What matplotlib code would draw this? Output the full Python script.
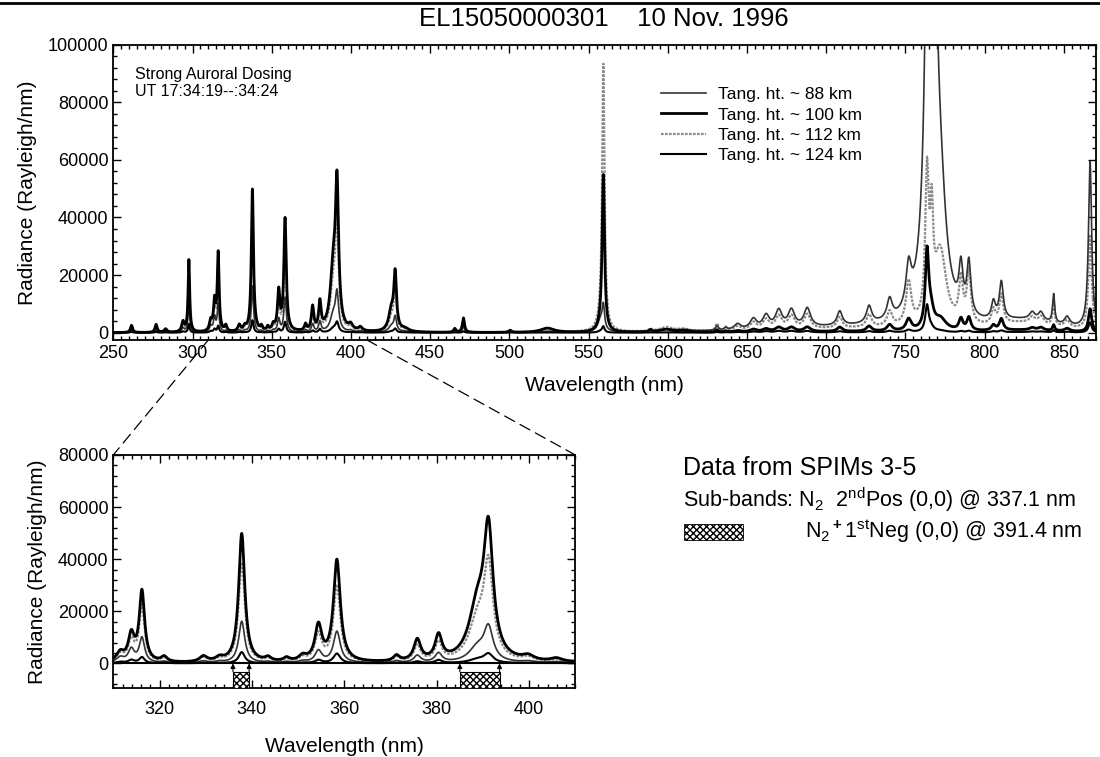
import numpy as np
import matplotlib.pyplot as plt
from matplotlib.lines import Line2D
from matplotlib.patches import Rectangle, ConnectionPatch
from matplotlib.ticker import MultipleLocator

plt.rcParams['font.family'] = ['Liberation Sans', 'DejaVu Sans']
plt.rcParams['mathtext.fontset'] = 'custom'
plt.rcParams['mathtext.rm'] = 'Liberation Sans'
plt.rcParams['mathtext.it'] = 'Liberation Sans:italic'
plt.rcParams['mathtext.bf'] = 'Liberation Sans:bold'

# emission features: centre (nm), half width (nm) and peak radiance
# (Rayleigh/nm) at each tangent height
line_nm = [261.5, 277.0, 283.0, 294.0, 297.7, 311.5, 313.9, 316.2, 321.0, 329.5,
           333.0, 337.8, 343.5, 347.5, 351.0, 354.4, 358.4, 371.3, 375.8, 380.4,
           388.8, 391.2, 399.8, 405.9, 425.5, 427.9, 434.0, 465.5, 471.0, 500.5,
           524.0, 557.5, 559.3, 589.0, 599.0, 610.0, 631.0, 636.5, 644.0, 654.0,
           662.0, 670.0, 678.0, 688.0, 708.5, 727.0, 740.0, 752.0, 763.6, 766.6,
           766.0, 772.0, 785.0, 790.0, 805.5, 810.5, 830.0, 835.5, 843.5, 852.0,
           866.5, 720.0, 825.0]
line_hw = [0.8, 0.8, 1.0, 1.0, 0.6, 1.0, 0.8, 0.7, 0.8, 1.0,
           1.0, 0.8, 0.8, 0.8, 1.0, 0.9, 0.9, 0.8, 0.9, 0.9,
           2.2, 1.2, 1.5, 1.5, 2.0, 1.0, 3.0, 0.8, 0.8, 1.0,
           5.0, 2.0, 0.9, 1.0, 5.0, 4.0, 1.0, 1.0, 2.5, 2.5,
           2.5, 2.5, 2.5, 2.5, 2.0, 2.0, 2.0, 2.0, 1.3, 1.0,
           2.2, 4.5, 1.5, 1.5, 1.5, 1.5, 2.0, 2.0, 0.8, 2.0,
           1.2, 60.0, 25.0]
peak_88 = [800, 800, 300, 1500, 11000, 2000, 5000, 9500, 500, 700,
           500, 16000, 400, 400, 600, 4500, 12000, 700, 2700, 3500,
           5500, 12500, 500, 400, 2000, 5000, 300, 400, 2000, 200,
           300, 4000, 8000, 500, 800, 500, 1500, 800, 2000, 3500,
           4500, 6000, 6000, 6500, 5000, 6000, 7000, 14000, 0, 0,
           380000, 30000, 15000, 18000, 6000, 13000, 2500, 3000, 10000, 3000,
           58000, 1500, 3500]
peak_100 = [2500, 2800, 1200, 3500, 25000, 3500, 10000, 27000, 2000, 2200,
            1500, 49500, 1500, 1400, 2000, 13500, 39000, 2200, 8200, 9500,
            20000, 47000, 1800, 1300, 7000, 19000, 1000, 1300, 5000, 700,
            1500, 1500, 54000, 800, 1000, 500, 800, 400, 500, 900,
            1000, 1500, 1500, 1600, 1500, 1800, 2200, 4000, 26000, 0,
            6000, 4000, 4000, 4500, 1800, 4000, 800, 1000, 2000, 1000,
            8000, 300, 800]
peak_112 = [2000, 2200, 1000, 3000, 19000, 3000, 8000, 21500, 1600, 1800,
            1200, 38500, 1200, 1100, 1600, 10500, 29500, 1800, 6300, 7200,
            15000, 34500, 1500, 1000, 5000, 13500, 800, 1100, 4000, 600,
            1300, 2000, 92000, 800, 1500, 800, 2500, 1200, 1500, 2600,
            3400, 4500, 4500, 5000, 3800, 4500, 5200, 15000, 48000, 26000,
            6000, 26000, 15000, 18000, 5000, 10000, 2000, 2500, 8000, 2500,
            33000, 1200, 3000]
peak_124 = [300, 300, 100, 400, 3000, 500, 1200, 2300, 200, 200,
            100, 4300, 100, 100, 200, 1200, 3700, 200, 700, 1200,
            1400, 3300, 150, 100, 400, 1300, 100, 100, 500, 100,
            100, 500, 2000, 100, 100, 0, 200, 100, 200, 300,
            400, 500, 500, 500, 400, 400, 500, 800, 9000, 0,
            1500, 500, 400, 500, 300, 600, 200, 200, 700, 200,
            3500, 100, 200]

legend_labels = ["Tang. ht. ~ 88 km", "Tang. ht. ~ 100 km",
                 "Tang. ht. ~ 112 km", "Tang. ht. ~ 124 km"]

# N2 2P (0,0) and N2+ 1N (0,0) sub-band limits (nm)
band_337 = (335.9, 339.4)
band_391 = (385.0, 393.6)

wl = np.arange(250.0, 870.05, 0.1)


def spectrum(peaks):
    out = np.zeros_like(wl)
    for c, w, h in zip(line_nm, line_hw, peaks):
        out += h / (1.0 + ((wl - c) / w) ** 2)
    return out


spectra = [spectrum(p) for p in (peak_88, peak_100, peak_112, peak_124)]
styles = [dict(color="#333333", lw=1.2, ls="-"),
          dict(color="black", lw=2.0, ls="-"),
          dict(color="#8a8a8a", lw=1.6, ls=(0, (1.2, 0.6))),
          dict(color="black", lw=1.5, ls="-")]
draw_order = [2, 0, 1, 3]

fig = plt.figure(figsize=(11, 7.57), dpi=100)
ax = fig.add_axes([0.103, 0.551, 0.893, 0.390])
ax2 = fig.add_axes([0.103, 0.091, 0.420, 0.308])

for i in draw_order:
    ax.plot(wl, spectra[i], label=legend_labels[i], **styles[i])
    sel = (wl >= 310) & (wl <= 410)
    ax2.plot(wl[sel], spectra[i][sel], **styles[i])

ax.set_xlim(250, 870)
ax.set_ylim(-2500, 100000)
ax.xaxis.set_major_locator(MultipleLocator(50))
ax.xaxis.set_minor_locator(MultipleLocator(5))
ax.yaxis.set_major_locator(MultipleLocator(20000))
ax.yaxis.set_minor_locator(MultipleLocator(4000))
ax.set_xlabel("Wavelength (nm)", fontsize=15, labelpad=10)
ax.set_ylabel("Radiance (Rayleigh/nm)", fontsize=15, labelpad=8)
fig.text(0.549, 0.975, "EL15050000301    10 Nov. 1996", fontsize=18.5,
         ha="center", va="center")

handles, labels = ax.get_legend_handles_labels()
order = [labels.index(l) for l in legend_labels]
ax.legend([handles[k] for k in order], [labels[k] for k in order],
          loc="upper left", bbox_to_anchor=(0.55, 0.88), frameon=False,
          fontsize=12.5, handlelength=2.6, labelspacing=0.3,
          borderaxespad=0, handletextpad=0.7)

ax.text(0.022, 0.925, "Strong Auroral Dosing\nUT 17:34:19--:34:24",
        transform=ax.transAxes, fontsize=11.5, va="top", linespacing=1.2)

ax2.set_xlim(310, 410)
ax2.set_ylim(-9500, 80000)
ax2.xaxis.set_major_locator(MultipleLocator(20))
ax2.xaxis.set_minor_locator(MultipleLocator(2))
ax2.yaxis.set_major_locator(MultipleLocator(20000))
ax2.yaxis.set_minor_locator(MultipleLocator(4000))
ax2.set_yticks([0, 20000, 40000, 60000, 80000])
ax2.set_xlabel("Wavelength (nm)", fontsize=15, labelpad=14)
ax2.set_ylabel("Radiance (Rayleigh/nm)", fontsize=15, labelpad=8)
ax2.axhline(0, color="black", lw=1.5, zorder=3)

# hatched sub-band markers with arrows up to the zero line
for lo, hi in (band_337, band_391):
    ax2.add_patch(Rectangle((lo, -9500), hi - lo, 6300, facecolor="white",
                            edgecolor="black", hatch="xxxxx", lw=0.8, zorder=4))
    for x in (lo, hi):
        ax2.annotate("", xy=(x, 0), xytext=(x, -3200),
                     arrowprops=dict(arrowstyle="-|>", lw=0.8, color="black",
                                     mutation_scale=7, shrinkA=0, shrinkB=0))

for a in (ax, ax2):
    a.tick_params(which="both", direction="in", top=True, right=True,
                  labelsize=13, width=1.0)
    a.tick_params(which="major", length=6)
    a.tick_params(which="minor", length=3)
    for s in a.spines.values():
        s.set_linewidth(1.3)
ax2.tick_params(axis="x", which="major", pad=9)

# dashed lines tying the inset range to the upper panel
for xa, xb in ((310, 0), (410, 1)):
    con = ConnectionPatch(xyA=(xa, -2500), coordsA=ax.transData,
                          xyB=(xb, 1), coordsB=ax2.transAxes,
                          color="black", lw=0.9, linestyle=(0, (9, 5)))
    fig.add_artist(con)

fig.add_artist(Line2D([0, 1], [0.996, 0.996], color="black", lw=2.0))

fig.text(0.621, 0.382, "Data from SPIMs 3-5", fontsize=18, va="center")
fig.text(0.621, 0.340,
         r"Sub-bands: N$_2$  2$^{\mathrm{nd}}$Pos (0,0) @ 337.1 nm",
         fontsize=15.5, va="center")
fig.add_artist(Rectangle((0.622, 0.287), 0.053, 0.021, transform=fig.transFigure,
                         facecolor="white", edgecolor="black", hatch="xxxxx",
                         lw=0.6))
fig.text(0.732, 0.298,
         r"N$_2$$^{\bf +}$1$^{\mathrm{st}}$Neg (0,0) @ 391.4 nm",
         fontsize=15.5, va="center")

fig.savefig("out.png", dpi=100)
